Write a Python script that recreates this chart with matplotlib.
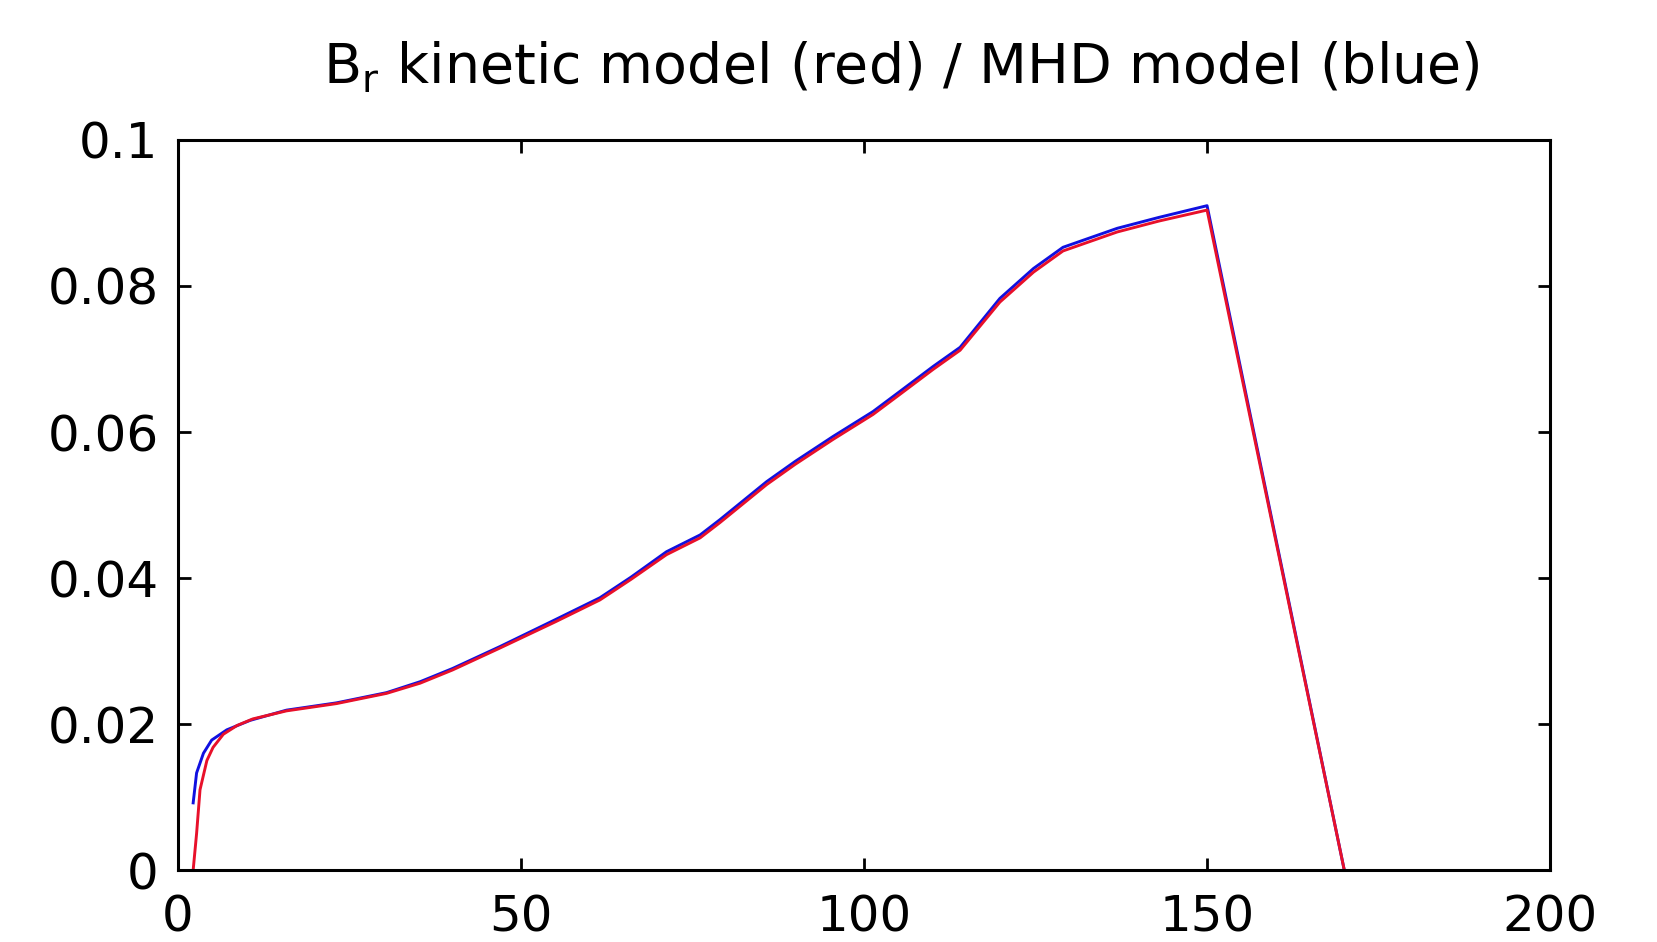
import matplotlib.pyplot as plt


# kinetic model (red)
red_x = [2.2, 2.4, 2.7, 3.2, 4.2, 5.1, 6.6, 8.6, 10.9, 15.8,
         23.1, 30.4, 35.3, 40.0, 46.9, 55.0, 61.5, 66.0, 71.2, 76.1,
         79.0, 85.8, 90.0, 95.5, 101.3, 105.0, 110.1, 114.0, 119.8, 124.7,
         129.0, 136.9, 143.0, 150.0, 170.0]
red_y = [0.0, 0.0020, 0.0050, 0.0110, 0.0150, 0.0168, 0.0186, 0.0198, 0.0207, 0.0218,
         0.0228, 0.0242, 0.0256, 0.0274, 0.0304, 0.0340, 0.0370, 0.0398, 0.0432, 0.0455,
         0.0476, 0.0528, 0.0556, 0.0590, 0.0624, 0.0650, 0.0686, 0.0712, 0.0778, 0.0819,
         0.0848, 0.0874, 0.0889, 0.0904, 0.0]

# MHD model (blue)
blue_x = [2.2, 2.7, 3.7, 4.9, 7.1, 10.5, 15.8,
          23.1, 30.4, 35.3, 40.0, 46.9, 55.0, 61.5, 66.0, 71.2, 76.1,
          79.0, 85.8, 90.0, 95.5, 101.3, 105.0, 110.1, 114.0, 119.8, 124.7,
          129.0, 136.9, 143.0, 150.0, 170.0]
blue_y = [0.0092, 0.0133, 0.0160, 0.0178, 0.0192, 0.0205, 0.0219,
          0.0229, 0.0243, 0.0258, 0.0276, 0.0306, 0.0343, 0.0373, 0.0401, 0.0436, 0.0459,
          0.0480, 0.0532, 0.0560, 0.0594, 0.0628, 0.0654, 0.0690, 0.0716, 0.0783, 0.0824,
          0.0853, 0.0879, 0.0894, 0.0910, 0.0]

x_ticks = [0, 50, 100, 150, 200]
y_ticks = [0, 0.02, 0.04, 0.06, 0.08, 0.1]
y_tick_labels = ["0", "0.02", "0.04", "0.06", "0.08", "0.1"]


def main():

    plt.rcParams["font.family"] = ["DejaVu Sans"]

    fig = plt.figure(figsize=(16.58, 9.42), dpi=100)
    ax = fig.add_axes([0.1074, 0.0764, 0.8275, 0.775])

    ax.plot(blue_x, blue_y, color="#1010e0", linewidth=2.1)
    ax.plot(red_x, red_y, color="#e8102a", linewidth=2.1)

    ax.set_xlim(0, 200)
    ax.set_ylim(0, 0.1)

    ax.set_xticks(x_ticks)
    ax.set_xticklabels([str(t) for t in x_ticks])
    ax.set_yticks(y_ticks)
    ax.set_yticklabels(y_tick_labels)

    ax.tick_params(
        direction="in",
        top=True,
        right=True,
        length=9,
        width=2,
        labelsize=36,
    )
    ax.tick_params(axis="x", pad=17)
    ax.tick_params(axis="y", pad=14)

    for spine in ax.spines.values():
        spine.set_linewidth(2.2)

    fig.text(
        0.5434,
        0.9124,
        r"$\mathregular{B_r}$ kinetic model (red) / MHD model (blue)",
        ha="center",
        va="baseline",
        fontsize=40,
    )

    fig.savefig("out.png", dpi=100, facecolor="white")
    plt.close(fig)


if __name__ == "__main__":
    main()
